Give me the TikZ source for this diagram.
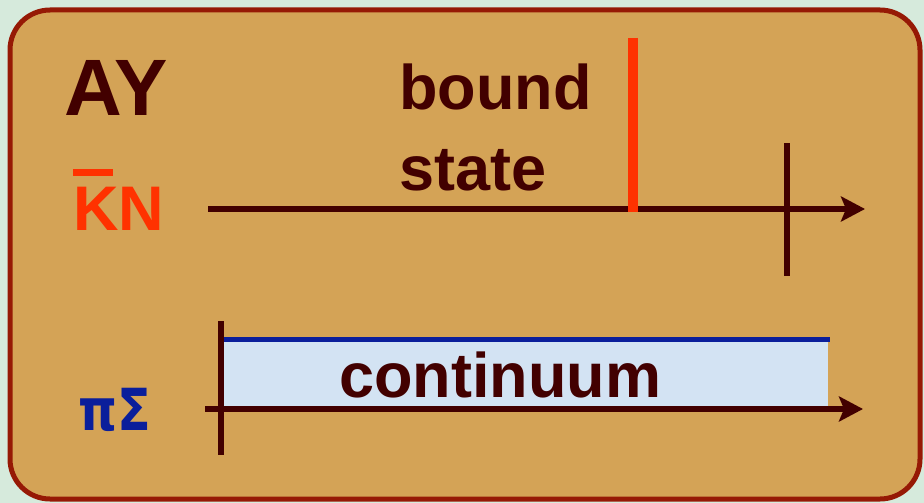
\documentclass[tikz,border=0pt]{standalone}
\usepackage{fontspec}
\setmainfont{Liberation Sans}
\newfontfamily\greekfont{DejaVu Sans}
\usetikzlibrary{arrows.meta}
\definecolor{bgout}{RGB}{214,234,220}
\definecolor{tan}{RGB}{212,163,86}
\definecolor{frame}{RGB}{150,25,5}
\definecolor{dark}{RGB}{66,0,0}
\definecolor{kred}{RGB}{255,50,0}
\definecolor{pblue}{RGB}{10,30,155}
\definecolor{lblue}{RGB}{211,227,243}
\tikzset{
  axis/.style={draw=dark, line width=5.5pt, -{Stealth[length=24pt,width=25pt,inset=5pt]}},
  tick/.style={draw=dark, line width=5.5pt},
  lbl/.style={anchor=base west, inner sep=0pt, font=\bfseries\fontsize{63}{70}\selectfont, text=dark},
}
\begin{document}
\begin{tikzpicture}[x=1pt,y=-1pt]
\useasboundingbox (0,0) rectangle (924,503);
\fill[bgout] (0,0) rectangle (924,503);
\draw[frame, line width=5pt, fill=tan, rounded corners=40pt] (10,10) rectangle (920,499);
% labels
\node[lbl, font=\bfseries\fontsize{80}{90}\selectfont] (ay) at (64,115) {AY};
\node[lbl, text=kred, font=\bfseries\fontsize{63}{70}\selectfont] (kn) at (73,230) {\rlap{\raisebox{54pt}{\rule{40pt}{7pt}}}KN};
\node[lbl, text=pblue, font=\greekfont\bfseries\fontsize{58}{70}\selectfont] (ps) at (78,430) {\scalebox{0.85}[1]{πΣ}};
\node[lbl] (bound) at (399,110) {bound};
\node[lbl] (state) at (399,190) {state};
% top axis
\coordinate (a1s) at (208,209);
\coordinate (a1e) at (865,209);
\path[axis] (a1s) -- (a1e);
\coordinate (rt) at (633,38);
\coordinate (rb) at (633,212);
\draw[kred, line width=10pt] (rt) -- (rb);
\coordinate (t1t) at (787,143);
\coordinate (t1b) at (787,276);
\path[tick] (t1t) -- (t1b);
% bottom
\fill[lblue] (224,339) rectangle (828,407);
\coordinate (bl) at (224,339);
\coordinate (br) at (830,339);
\draw[pblue, line width=5pt] (bl) -- (br);
\node[lbl] (cont) at (339,397) {continuum};
\coordinate (a2s) at (205,409);
\coordinate (a2e) at (863,409);
\path[axis] (a2s) -- (a2e);
\coordinate (t2t) at (221,321);
\coordinate (t2b) at (221,455);
\path[tick] (t2t) -- (t2b);
\end{tikzpicture}
\end{document}
